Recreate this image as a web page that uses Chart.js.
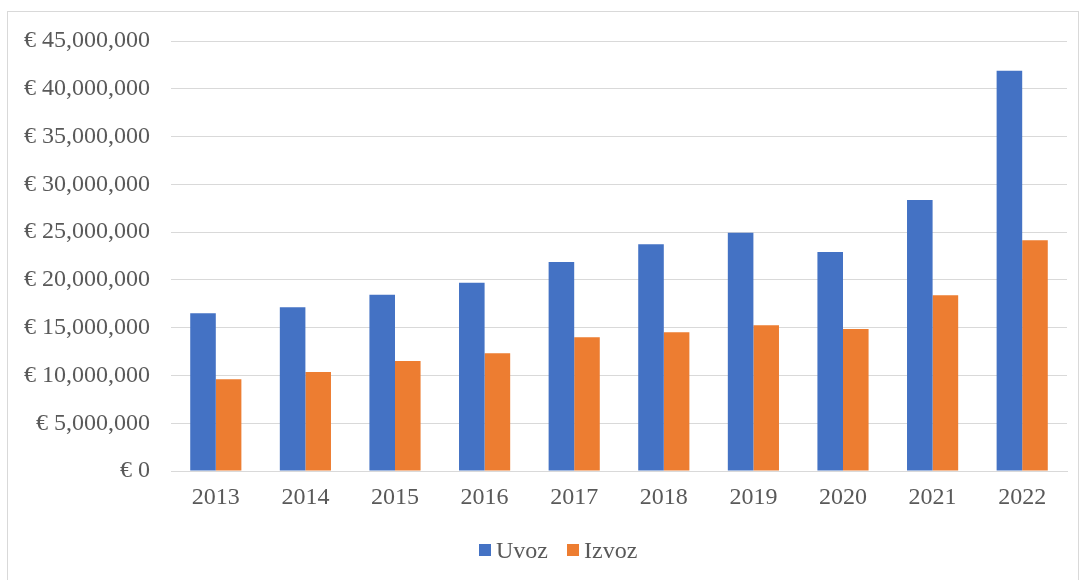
<!DOCTYPE html>
<html>
<head>
<meta charset="utf-8">
<script src="https://cdn.jsdelivr.net/npm/chart.js@4"></script>
<style>
  body { margin: 0; background: #fff; }
  #wrap { position: relative; width: 1086px; height: 580px; }
  #legend {
    position: absolute; left: 479px; top: 536px;
    font-family: 'Liberation Serif', serif; font-size: 24px; color: #595959;
    display: flex; align-items: center; line-height: 28px;
  }
  #legend span.box { display: inline-block; width: 12px; height: 12px; margin-right: 5px; }
  #legend span.item { display: inline-flex; align-items: center; margin-right: 19px; }
</style>
</head>
<body>
<div id="wrap">
  <canvas id="c" width="1086" height="580"></canvas>
  <div id="legend"></div>
</div>
<script>
// podaci
const years = ['2013', '2014', '2015', '2016', '2017', '2018', '2019', '2020', '2021', '2022'];
const uvoz = [16500000, 17130000, 18450000, 19710000, 21870000, 23720000, 24940000, 22920000, 28360000, 41890000];
const izvoz = [9600000, 10360000, 11510000, 12310000, 13990000, 14510000, 15240000, 14860000, 18380000, 24140000];
const seriesNames = ['Uvoz', 'Izvoz'];
const seriesColors = ['#4472C4', '#ED7D31'];

// okvir oko cijelog grafikona
const outerBorder = {
  id: 'outerBorder',
  beforeDraw(chart) {
    const ctx = chart.ctx;
    ctx.save();
    ctx.fillStyle = '#fff';
    ctx.fillRect(0, 0, chart.width, chart.height);
    ctx.strokeStyle = '#d9d9d9';
    ctx.lineWidth = 1;
    ctx.strokeRect(7.5, 11.5, 1071, 570);
    ctx.restore();
  }
};

function fmt(v) {
  return '€ ' + v.toLocaleString('en-US');
}

const chart = new Chart(document.getElementById('c'), {
  type: 'bar',
  data: {
    labels: years,
    datasets: [
      { label: seriesNames[0], data: uvoz, backgroundColor: seriesColors[0] },
      { label: seriesNames[1], data: izvoz, backgroundColor: seriesColors[1] }
    ]
  },
  options: {
    responsive: false,
    animation: false,
    layout: { padding: { top: 41, right: 19, bottom: 59, left: 0 } },
    datasets: { bar: { categoryPercentage: 0.571, barPercentage: 1.0 } },
    scales: {
      x: {
        grid: { display: false, drawTicks: false },
        border: { color: '#d9d9d9' },
        ticks: { color: '#595959', padding: 12, font: { family: 'Liberation Serif', size: 24 } },
        afterFit(scale) { scale.height = 50; }
      },
      y: {
        min: 0,
        max: 45000000,
        grid: { color: '#d9d9d9', drawTicks: false },
        border: { display: false },
        ticks: {
          stepSize: 5000000,
          color: '#595959',
          padding: 21,
          font: { family: 'Liberation Serif', size: 24 },
          callback: (v) => fmt(v)
        },
        afterFit(scale) { scale.width = 171; }
      }
    },
    plugins: {
      legend: { display: false },
      tooltip: { enabled: false }
    }
  },
  plugins: [outerBorder]
});

// legenda
const legend = document.getElementById('legend');
chart.data.datasets.forEach((ds) => {
  const item = document.createElement('span');
  item.className = 'item';
  const box = document.createElement('span');
  box.className = 'box';
  box.style.background = ds.backgroundColor;
  item.appendChild(box);
  item.appendChild(document.createTextNode(ds.label));
  legend.appendChild(item);
});
</script>
</body>
</html>
